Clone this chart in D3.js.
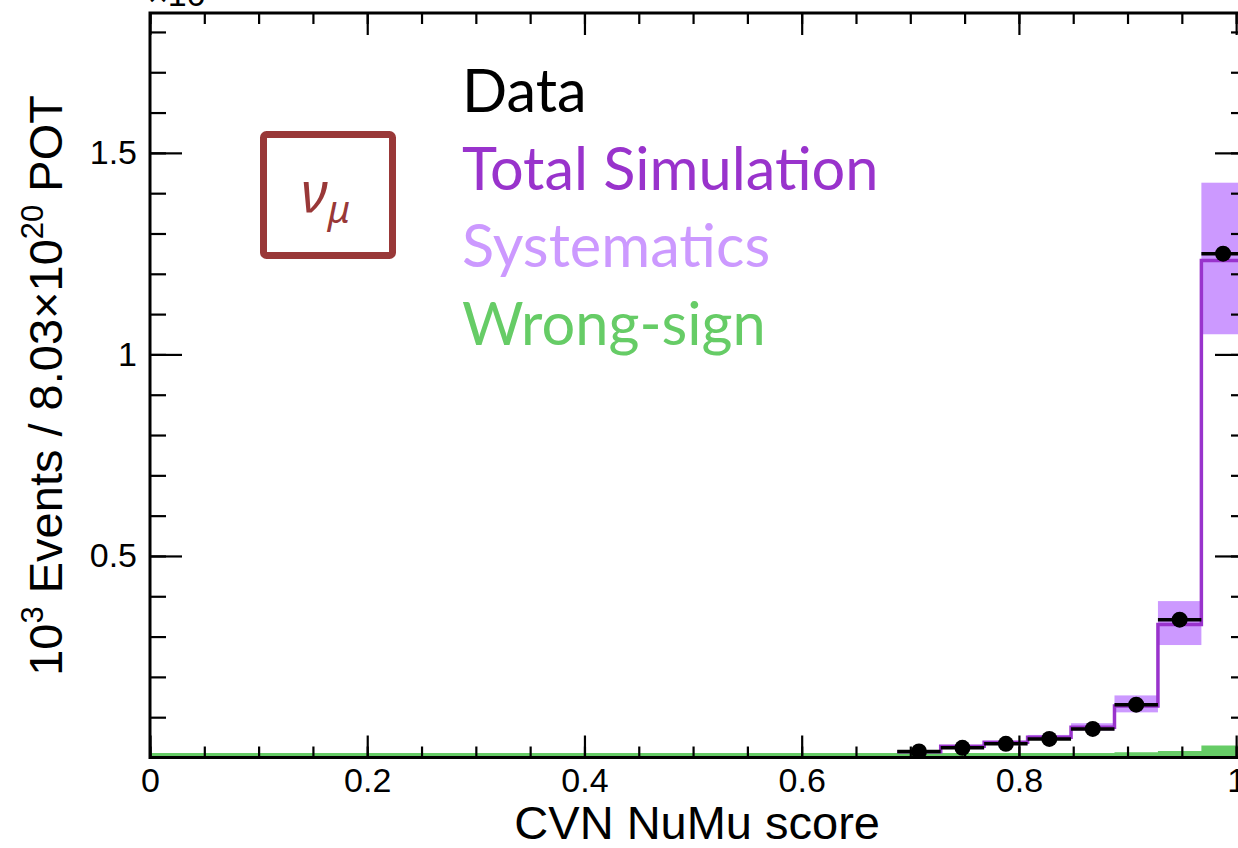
<!DOCTYPE html>
<html lang="en">
<head>
<meta charset="UTF-8" />
<title>CVN NuMu score</title>
<script src="https://cdnjs.cloudflare.com/ajax/libs/d3/7.8.5/d3.min.js"></script>
<style>
  body { margin: 0; background: #fff; }
  svg { display: block; }
  .axis text { font-family: "Liberation Sans", Arial, sans-serif; font-size: 34px; fill: #000; }
  .axis line { stroke: #000; stroke-width: 2.2px; }
</style>
</head>
<body>
<div id="chart"></div>
<script>
  // bin edges of the CVN NuMu score histogram (last bin runs past 1)
  const binEdges = [0.688, 0.728, 0.768, 0.808, 0.848, 0.888, 0.928, 0.968, 1.008];
  // 10^3 events per bin
  const dataValues = [0.015, 0.024, 0.034, 0.046, 0.071, 0.131, 0.342, 1.25];
  const simValues = [0.014, 0.028, 0.038, 0.050, 0.075, 0.128, 0.330, 1.233];
  const systLow = [0.011, 0.024, 0.034, 0.045, 0.067, 0.112, 0.279, 1.050];
  const systHigh = [0.017, 0.031, 0.041, 0.056, 0.085, 0.154, 0.388, 1.426];
  const wrongSignBelow = 0.011; // flat level from 0 up to the first bin
  const wrongSign = [0.011, 0.011, 0.011, 0.011, 0.011, 0.013, 0.016, 0.030];

  const legendLabels = ["Data", "Total Simulation", "Systematics", "Wrong-sign"];
  const legendColors = ["#000000", "#9933cc", "#cc99ff", "#66cc66"];
  const xTicks = [0, 0.2, 0.4, 0.6, 0.8, 1];
  const yTicks = [0.5, 1, 1.5];

  const width = 1238;
  const height = 848;
  const frameL = 150, frameR = 1247, frameT = 13, frameB = 757.5;

  const svg = d3.select("#chart").append("svg")
    .attr("width", width)
    .attr("height", height);

  const x = d3.scaleLinear().domain([0, 1.01]).range([frameL, frameR]);
  const y = d3.scaleLinear().domain([0, 1.847]).range([frameB, frameT]);

  svg.append("clipPath").attr("id", "frame")
    .append("rect")
    .attr("x", frameL).attr("y", frameT)
    .attr("width", frameR - frameL).attr("height", frameB - frameT);

  const plot = svg.append("g").attr("clip-path", "url(#frame)");

  const nb = dataValues.length;
  const bins = d3.range(nb).map((i) => ({
    lo: binEdges[i], hi: binEdges[i + 1],
    data: dataValues[i], sim: simValues[i],
    low: systLow[i], high: systHigh[i], ws: wrongSign[i],
  }));

  // systematics band
  plot.selectAll("rect.syst")
    .data(bins)
    .join("rect")
    .attr("class", "syst")
    .attr("x", (d) => x(d.lo))
    .attr("width", (d) => x(d.hi) - x(d.lo))
    .attr("y", (d) => y(d.high))
    .attr("height", (d) => y(d.low) - y(d.high))
    .attr("fill", "#cc99ff");

  // wrong-sign filled histogram
  const wsPts = [{ x: 0, v: wrongSignBelow }]
    .concat(bins.map((d) => ({ x: d.lo, v: d.ws })))
    .concat([{ x: binEdges[nb], v: wrongSign[nb - 1] }]);
  plot.append("path")
    .datum(wsPts)
    .attr("fill", "#66cc66")
    .attr("d", d3.area().curve(d3.curveStepAfter)
      .x((d) => x(d.x)).y0(y(0)).y1((d) => y(d.v)));

  // total simulation
  const simPts = bins.map((d) => ({ x: d.lo, v: d.sim }))
    .concat([{ x: binEdges[nb], v: simValues[nb - 1] }]);
  plot.append("path")
    .datum(simPts)
    .attr("fill", "none")
    .attr("stroke", "#9933cc")
    .attr("stroke-width", 3.5)
    .attr("d", d3.line().curve(d3.curveStepAfter)
      .x((d) => x(d.x)).y((d) => y(d.v)));

  // data points with bin-width bars
  plot.selectAll("line.xerr")
    .data(bins)
    .join("line")
    .attr("class", "xerr")
    .attr("x1", (d) => x(d.lo))
    .attr("x2", (d) => x(d.hi))
    .attr("y1", (d) => y(d.data))
    .attr("y2", (d) => y(d.data))
    .attr("stroke", "#000")
    .attr("stroke-width", 3.5);
  plot.selectAll("circle")
    .data(bins)
    .join("circle")
    .attr("cx", (d) => x((d.lo + d.hi) / 2))
    .attr("cy", (d) => y(d.data))
    .attr("r", 8)
    .attr("fill", "#000");

  // axes, ticks pointing inwards on all four sides
  const minorX = d3.range(0, 1.01, 0.05);
  const minorY = d3.range(0.1, 1.85, 0.1);

  function addAxis(axis, tx, ty, labels) {
    const g = svg.append("g").attr("class", "axis")
      .attr("transform", `translate(${tx},${ty})`)
      .call(axis);
    g.select(".domain").remove();
    if (!labels) g.selectAll("text").remove();
    return g;
  }

  addAxis(d3.axisBottom(x).tickValues(minorX).tickSizeInner(-11).tickSizeOuter(0).tickFormat(""), 0, frameB);
  addAxis(d3.axisBottom(x).tickValues(xTicks).tickSizeInner(-22).tickSizeOuter(0)
    .tickPadding(10.5).tickFormat(d3.format("")), 0, frameB, true);
  addAxis(d3.axisTop(x).tickValues(minorX).tickSizeInner(-11).tickSizeOuter(0), 0, frameT);
  addAxis(d3.axisTop(x).tickValues(xTicks).tickSizeInner(-22).tickSizeOuter(0), 0, frameT);

  addAxis(d3.axisLeft(y).tickValues(minorY).tickSizeInner(-16).tickSizeOuter(0).tickFormat(""), frameL, 0);
  addAxis(d3.axisLeft(y).tickValues(yTicks).tickSizeInner(-32).tickSizeOuter(0)
    .tickPadding(13).tickFormat(d3.format("")), frameL, 0, true);
  addAxis(d3.axisRight(y).tickValues(minorY).tickSizeInner(-16).tickSizeOuter(0), frameR, 0);
  addAxis(d3.axisRight(y).tickValues(yTicks).tickSizeInner(-32).tickSizeOuter(0), frameR, 0);

  svg.append("rect")
    .attr("x", frameL).attr("y", frameT)
    .attr("width", frameR - frameL).attr("height", frameB - frameT)
    .attr("fill", "none")
    .attr("stroke", "#000")
    .attr("stroke-width", 3);

  // exponent label at top of the y axis
  const expo = svg.append("text")
    .attr("x", 148).attr("y", 6)
    .attr("font-family", "Liberation Sans, Arial, sans-serif")
    .attr("font-size", 34);
  expo.append("tspan").text("\u00d710");
  expo.append("tspan").attr("dy", -14).attr("font-size", 24).text("3");

  // axis titles
  svg.append("text")
    .attr("x", 880).attr("y", 839)
    .attr("text-anchor", "end")
    .attr("font-family", "Liberation Sans, Arial, sans-serif")
    .attr("font-size", 47)
    .text("CVN NuMu score");

  const yt = svg.append("text")
    .attr("transform", "translate(62,95) rotate(-90)")
    .attr("text-anchor", "end")
    .attr("font-family", "Liberation Sans, Arial, sans-serif")
    .attr("font-size", 47);
  yt.append("tspan").text("10");
  yt.append("tspan").attr("dy", -19).attr("font-size", 31).text("3");
  yt.append("tspan").attr("dy", 19).text(" Events / 8.03\u00d710");
  yt.append("tspan").attr("dy", -19).attr("font-size", 31).text("20");
  yt.append("tspan").attr("dy", 19).text(" POT");

  // legend
  svg.selectAll("text.legend")
    .data(legendLabels)
    .join("text")
    .attr("class", "legend")
    .attr("x", 462)
    .attr("y", (d, i) => 112 + i * 77.7)
    .attr("font-family", "Lato, 'Open Sans', sans-serif")
    .attr("font-size", 59.5)
    .attr("fill", (d, i) => legendColors[i])
    .text((d) => d);

  // nu_mu box
  svg.append("rect")
    .attr("x", 263.5).attr("y", 134.5)
    .attr("width", 129).attr("height", 121)
    .attr("rx", 3)
    .attr("fill", "none")
    .attr("stroke", "#993838")
    .attr("stroke-width", 7);
  const nu = svg.append("text")
    .attr("x", 301).attr("y", 213)
    .attr("font-family", "'Noto Sans', sans-serif")
    .attr("font-style", "italic")
    .attr("font-size", 56)
    .attr("fill", "#993838");
  nu.append("tspan").text("\u03bd");
  nu.append("tspan").attr("dy", 10).attr("font-size", 38).text("\u03bc");
</script>
</body>
</html>
